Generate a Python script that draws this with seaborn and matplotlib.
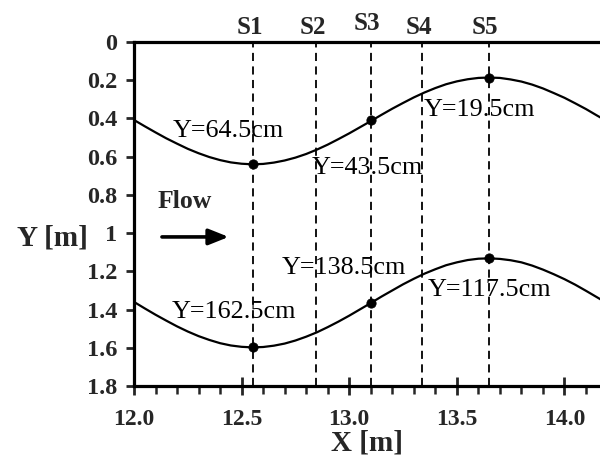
import matplotlib
matplotlib.use("Agg")
import matplotlib.pyplot as plt
import seaborn as sns
import pandas as pd
from matplotlib.ticker import MultipleLocator, FixedLocator

# ---------------- data ----------------
curve_x = [12.0, 12.05, 12.1, 12.15, 12.2, 12.25, 12.3, 12.35, 12.4, 12.45, 12.5, 12.55,
           12.6, 12.65, 12.7, 12.75, 12.8, 12.85, 12.9, 12.95, 13.0, 13.05,
           13.1, 13.15, 13.2, 13.25, 13.3, 13.35, 13.4, 13.45, 13.5, 13.55,
           13.6, 13.65, 13.7, 13.75, 13.8, 13.85, 13.9, 13.95, 14.0, 14.05,
           14.1, 14.15, 14.2]
upper_y = [0.408, 0.441, 0.473, 0.504, 0.532, 0.559, 0.582, 0.602, 0.618, 0.630, 0.637, 0.640,
           0.638, 0.631, 0.620, 0.605, 0.586, 0.563, 0.537, 0.508, 0.478, 0.446,
           0.414, 0.381, 0.349, 0.319, 0.290, 0.264, 0.241, 0.221, 0.206, 0.195,
           0.188, 0.186, 0.188, 0.196, 0.207, 0.223, 0.243, 0.267, 0.292, 0.321,
           0.351, 0.384, 0.416]
lower_y = [1.360, 1.394, 1.427, 1.458, 1.488, 1.515, 1.539, 1.559, 1.576, 1.588, 1.595, 1.598,
           1.596, 1.589, 1.578, 1.562, 1.542, 1.519, 1.492, 1.463, 1.432, 1.399,
           1.366, 1.332, 1.300, 1.268, 1.239, 1.212, 1.189, 1.168, 1.153, 1.141,
           1.134, 1.132, 1.135, 1.142, 1.153, 1.170, 1.191, 1.215, 1.241, 1.270,
           1.302, 1.335, 1.368]

station_x = [12.554, 12.846, 13.100, 13.339, 13.648]
station_labels = ["S1", "S2", "S3", "S4", "S5"]

point_x = [12.554, 13.100, 13.648, 12.554, 13.100, 13.648]
point_y = [0.640, 0.408, 0.187, 1.598, 1.364, 1.132]

note_text = ["Y=64.5cm", "Y=43.5cm", "Y=19.5cm", "Y=162.5cm", "Y=138.5cm", "Y=117.5cm"]
note_x = [12.18, 12.827, 13.347, 12.175, 12.685, 13.366]
note_y = [0.466, 0.66, 0.356, 1.411, 1.183, 1.298]

ytick_vals = [0, 0.2, 0.4, 0.6, 0.8, 1.0, 1.2, 1.4, 1.6, 1.8]
ytick_labels = ["0", "0.2", "0.4", "0.6", "0.8", "1", "1.2", "1.4", "1.6", "1.8"]
xtick_vals = [12.0, 12.5, 13.0, 13.5, 14.0]
xtick_labels = ["12.0", "12.5", "13.0", "13.5", "14.0"]

# ---------------- styling ----------------
sns.set_theme(style="white")
plt.rcParams["font.family"] = ["Liberation Serif", "DejaVu Serif"]

fig = plt.figure(figsize=(6.0, 4.61), dpi=100)
ax = fig.add_axes([0.2233, 0.1627, 0.7767, 0.7462])

df_curves = pd.DataFrame({
    "x": curve_x + curve_x,
    "y": upper_y + lower_y,
    "bank": ["upper"] * len(curve_x) + ["lower"] * len(curve_x),
})
sns.lineplot(data=df_curves, x="x", y="y", units="bank", estimator=None,
             color="black", linewidth=1.6, sort=False, ax=ax)

for sx in station_x:
    ax.axvline(sx, color="black", linewidth=1.3, linestyle=(0, (4.5, 3)), zorder=1)

df_pts = pd.DataFrame({"x": point_x, "y": point_y})
sns.scatterplot(data=df_pts, x="x", y="y", color="black", s=45, edgecolor="black",
                zorder=5, ax=ax)

for t, nx, ny in zip(note_text, note_x, note_y):
    ax.text(nx, ny, t, ha="left", va="center", fontsize=18.8, color="black",
            family=["Liberation Serif", "DejaVu Serif"])

for sx, lab in zip(station_x, station_labels):
    dy = 3 if lab == "S3" else 0
    ax.annotate(lab, xy=(sx, 0), xycoords="data", xytext=(-2.5, 2 + dy),
                textcoords="offset points", ha="center", va="bottom",
                fontsize=18, fontweight="bold", annotation_clip=False)

# Flow arrow
ax.text(12.11, 0.835, "Flow", ha="left", va="center", fontsize=18.5, fontweight="bold")
ax.annotate("", xy=(12.44, 1.02), xytext=(12.13, 1.02),
            arrowprops=dict(arrowstyle="-|>,head_length=1.0,head_width=0.4",
                            color="black", lw=2.6, shrinkA=0, shrinkB=0))

ax.set_xlim(12.0, 14.165)
ax.set_ylim(1.8, 0.0)

ax.xaxis.set_major_locator(FixedLocator(xtick_vals))
ax.xaxis.set_minor_locator(MultipleLocator(0.1))
ax.set_xticklabels(xtick_labels)
ax.yaxis.set_major_locator(FixedLocator(ytick_vals))
ax.set_yticklabels(ytick_labels)

ax.tick_params(axis="x", which="major", direction="inout", length=13, width=2.0,
               labelsize=17, pad=10, bottom=True)
ax.tick_params(axis="x", which="minor", direction="out", length=6, width=1.8, bottom=True)
ax.tick_params(axis="y", which="major", direction="out", length=6, width=2.0,
               labelsize=17.5, pad=6, left=True)
for lab in ax.get_xticklabels() + ax.get_yticklabels():
    lab.set_fontweight("bold")

for side in ["left", "top", "bottom"]:
    ax.spines[side].set_visible(True)
    ax.spines[side].set_linewidth(2.3)
    ax.spines[side].set_color("black")
ax.spines["right"].set_visible(False)

ax.set_xlabel("X [m]", fontsize=21, fontweight="bold", labelpad=0)
ax.set_ylabel("")
fig.text(0.087, 1 - 238 / 461, "Y [m]", ha="center", va="center",
         fontsize=21, fontweight="bold")

fig.savefig("out.png", dpi=100, facecolor="white")
